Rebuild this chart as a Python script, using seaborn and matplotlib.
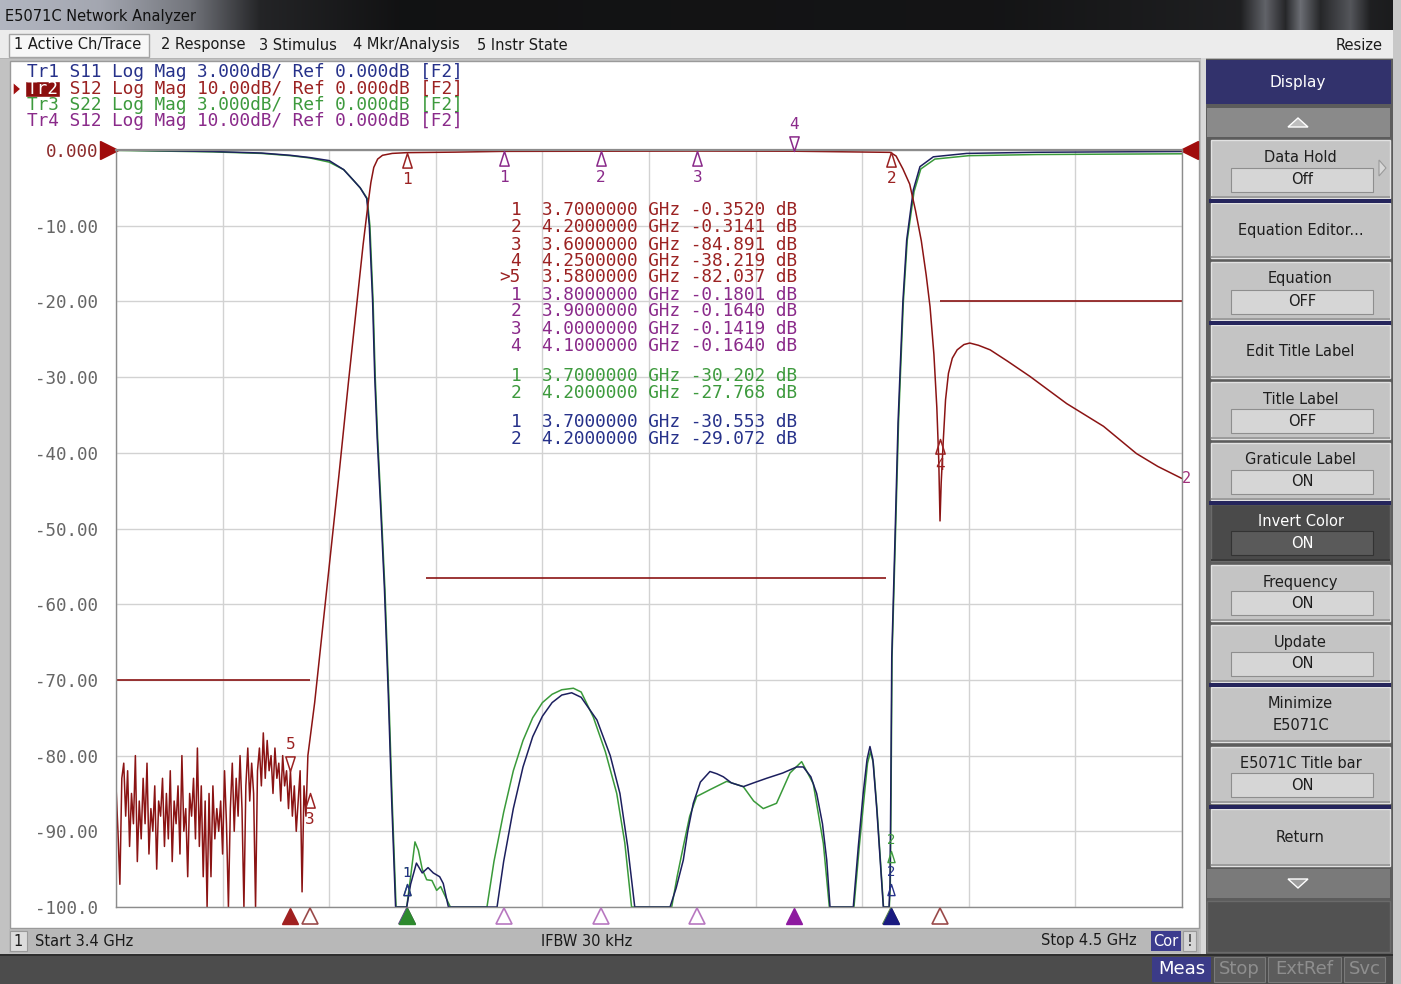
import numpy as np
import pandas as pd
import seaborn as sns
import matplotlib.pyplot as plt
from matplotlib.patches import Rectangle, Polygon
from matplotlib.path import Path
import matplotlib.transforms as mtransforms

sns.set_style('white')
plt.rcParams['font.family'] = ['DejaVu Sans']
MONO = 'DejaVu Sans Mono'

# ---------------- traces (GHz, displayed dB) ----------------
# Tr2 S12, noisy stop band on the left
noise_mhz = [3400, 3402, 3404, 3406, 3408, 3410, 3412, 3414, 3416, 3418,
             3420, 3422, 3424, 3426, 3428, 3430, 3432, 3434, 3436, 3438,
             3440, 3442, 3444, 3446, 3448, 3450, 3452, 3454, 3456, 3458,
             3460, 3462, 3464, 3466, 3468, 3470, 3472, 3474, 3476, 3478,
             3480, 3482, 3484, 3486, 3488, 3490, 3492, 3494, 3496, 3498,
             3500, 3502, 3504, 3506, 3508, 3510, 3512, 3514, 3516, 3518,
             3520, 3522, 3524, 3526, 3528, 3530, 3532, 3534, 3536, 3538,
             3540, 3542, 3544, 3546, 3548, 3550, 3552, 3554, 3556, 3558,
             3560, 3562, 3564, 3566, 3568, 3570, 3572, 3574, 3576, 3578,
             3580, 3582, 3584, 3586, 3588, 3590, 3592, 3594, 3596, 3598]
noise_db = [-84, -90, -97, -83, -81, -88, -82, -92, -85, -89,
            -80, -94, -86, -91, -83, -89, -81, -93, -87, -90,
            -84, -95, -86, -88, -83, -92, -85, -91, -82, -94,
            -86, -89, -84, -93, -80, -90, -87, -96, -85, -88,
            -83, -91, -79, -92, -84, -96, -86, -100, -85, -96,
            -84, -91, -87, -90, -86, -93, -82, -89, -100, -87,
            -81, -90, -83, -88, -80, -87, -100, -84, -79, -86,
            -81, -85, -100, -82, -79, -84, -77, -83, -78, -82,
            -80, -85, -79, -83, -81, -86, -80, -84, -82, -87,
            -82, -88, -84, -90, -86, -82, -98, -84, -88, -80]

# Tr2 S12, skirt, passband and upper stop band
s12_ghz = [3.601, 3.605, 3.610, 3.620, 3.630, 3.640, 3.650, 3.655, 3.660, 3.663,
           3.666, 3.670, 3.675, 3.685, 3.700, 3.750, 3.800, 3.900, 4.000, 4.100, 4.199,
           4.205, 4.212, 4.219, 4.225, 4.231, 4.236, 4.240, 4.244, 4.247, 4.249,
           4.2503, 4.2515, 4.2537, 4.256, 4.259, 4.263, 4.268, 4.275, 4.281, 4.290,
           4.302, 4.320, 4.343, 4.362, 4.381, 4.400, 4.419, 4.436, 4.453, 4.475, 4.500]
s12_db = [-77, -73, -67, -55, -43, -30.5, -18.5, -12.5, -7.2, -4.3,
          -2.3, -1.2, -0.7, -0.45, -0.35, -0.28, -0.18, -0.16, -0.14, -0.16, -0.31,
          -0.8, -2.5, -4.5, -8, -12, -16.5, -20.7, -27, -34, -41,
          -49, -44, -38.3, -33, -29.5, -27.5, -26.4, -25.7, -25.5, -25.8,
          -26.4, -27.9, -29.9, -31.7, -33.5, -35, -36.5, -38.3, -40.1, -41.8, -43.4]

# Tr1 S11 (3 dB/div, shown on the 10 dB/div graticule)
s11_ghz = [3.400, 3.450, 3.500, 3.550, 3.580, 3.600, 3.620, 3.635, 3.645, 3.652,
           3.6587, 3.6614, 3.6648, 3.667, 3.6695, 3.673, 3.677, 3.681, 3.6845, 3.6885,
           3.700, 3.704, 3.710, 3.716, 3.722, 3.7274, 3.734, 3.7377, 3.743,
           3.7932, 3.800, 3.810, 3.820, 3.830, 3.840, 3.850, 3.860, 3.8702, 3.880,
           3.8963, 3.910, 3.920, 3.928, 3.9353,
           3.9717, 3.978, 3.9854, 3.990, 3.9957, 4.003, 4.0129, 4.020, 4.0267, 4.035,
           4.0473, 4.058, 4.0713, 4.088, 4.1024, 4.1092, 4.117, 4.123, 4.129, 4.1334, 4.1368,
           4.1608, 4.166, 4.171, 4.175, 4.178, 4.181, 4.185, 4.1918,
           4.1977, 4.1987, 4.1995, 4.2005, 4.2038, 4.207, 4.209, 4.212, 4.2159, 4.2227,
           4.2296, 4.2434, 4.2778, 4.350, 4.420, 4.500]
s11_db = [-0.0, -0.1, -0.2, -0.4, -0.7, -1.0, -1.4, -2.6, -4.0, -5.0,
          -6.4, -10, -20, -30, -38, -47, -58, -72, -86, -100,
          -100, -97, -94.2, -95.5, -94.8, -95.5, -96, -96.9, -100,
          -100, -94, -87, -81.5, -77.5, -74.8, -73, -72, -71.7, -72.3,
          -75.3, -80, -85, -92, -100,
          -100, -97.5, -93.8, -90, -86.3, -83.5, -82.1, -82.4, -82.8, -83.6,
          -84.1, -83.6, -83, -82.3, -81.5, -81.5, -82.8, -85, -89, -93.8, -100,
          -100, -92, -85, -80.5, -78.8, -80.5, -87, -100,
          -100, -97, -85, -67, -51.5, -36, -29.5, -20, -11.9, -5.3,
          -2.2, -0.9, -0.45, -0.3, -0.25, -0.2]

# Tr3 S22 (3 dB/div)
s22_ghz = [3.400, 3.450, 3.500, 3.550, 3.580, 3.600, 3.620, 3.635, 3.645, 3.652,
           3.6592, 3.6620, 3.6653, 3.6675, 3.6700, 3.6735, 3.6775, 3.6815, 3.6850, 3.6890,
           3.700, 3.704, 3.7085, 3.712, 3.716, 3.7206, 3.726, 3.7309, 3.735, 3.7413, 3.745,
           3.7828, 3.790, 3.800, 3.810, 3.820, 3.830, 3.840, 3.850, 3.860, 3.872, 3.880,
           3.8925, 3.905, 3.9167, 3.925, 3.932,
           3.9734, 3.979, 3.9854, 3.992, 3.9992, 4.0129, 4.0302, 4.0473, 4.058, 4.0679,
           4.0816, 4.0955, 4.1075, 4.1195, 4.1299, 4.1361,
           4.1615, 4.167, 4.172, 4.1755, 4.1785, 4.1815, 4.1855, 4.1920,
           4.1980, 4.1990, 4.1998, 4.2008, 4.2042, 4.2075, 4.2095, 4.2125, 4.2165, 4.2235,
           4.2305, 4.2450, 4.2800, 4.350, 4.420, 4.500]
s22_db = [-0.05, -0.15, -0.25, -0.45, -0.75, -1.05, -1.6, -2.6, -4.0, -5.0,
          -6.4, -10, -20, -30, -38, -47, -58, -72, -86, -100,
          -100, -96, -91.4, -92.5, -95, -96.4, -96.5, -97.8, -97.3, -99, -100,
          -100, -94, -87.5, -82, -78, -75, -73, -71.9, -71.3, -71.1, -71.6,
          -74.9, -79.5, -85, -91.5, -100,
          -100, -96, -92, -88, -85.4, -84.5, -83.4, -84.1, -86, -87,
          -86.3, -82.3, -80.8, -83.7, -91.6, -100,
          -100, -92, -85.5, -81, -79.5, -81, -87.5, -100,
          -100, -97, -85, -67, -51.5, -36, -29.5, -20, -11.9, -5.5,
          -2.5, -1.2, -0.75, -0.6, -0.55, -0.5]

# limit lines of Tr2
limit_start = [3.400, 3.720, 4.250]
limit_stop = [3.600, 4.195, 4.500]
limit_db = [-70, -56.5, -20]

# markers (value as read by the instrument)
tr2_mk_ghz = [3.70, 4.20, 3.60, 4.25, 3.58]
tr2_mk_db = [-0.3520, -0.3141, -84.891, -38.219, -82.037]
tr4_mk_ghz = [3.80, 3.90, 4.00, 4.10]
tr4_mk_db = [-0.1801, -0.1640, -0.1419, -0.1640]
tr3_mk_ghz = [3.70, 4.20]
tr3_mk_db = [-30.202, -27.768]
tr1_mk_ghz = [3.70, 4.20]
tr1_mk_db = [-30.553, -29.072]
active_mk = {'tr1': 1, 'tr2': 4, 'tr3': 0, 'tr4': 3}

y_ticks = [0, -10, -20, -30, -40, -50, -60, -70, -80, -90, -100]
y_tick_labels = ['0.000', '-10.00', '-20.00', '-30.00', '-40.00', '-50.00',
                 '-60.00', '-70.00', '-80.00', '-90.00', '-100.0']

header_lines = ['Tr1 S11 Log Mag 3.000dB/ Ref 0.000dB [F2]',
                'Tr2 S12 Log Mag 10.00dB/ Ref 0.000dB [F2]',
                'Tr3 S22 Log Mag 3.000dB/ Ref 0.000dB [F2]',
                'Tr4 S12 Log Mag 10.00dB/ Ref 0.000dB [F2]']

menu_items = ['1 Active Ch/Trace', '2 Response', '3 Stimulus', '4 Mkr/Analysis', '5 Instr State']
softkeys = [('Data Hold', 'Off'), ('Equation Editor...', None), ('Equation', 'OFF'),
            ('Edit Title Label', None), ('Title Label', 'OFF'), ('Graticule Label', 'ON'),
            ('Invert Color', 'ON'), ('Frequency', 'ON'), ('Update', 'ON'),
            ('Minimize\nE5071C', None), ('E5071C Title bar', 'ON'), ('Return', None)]

# colours
C_S11 = '#1c1f5e'
C_S12 = '#8b1414'
C_S22 = '#3a9a3a'
T_S11 = '#26318a'
T_S12 = '#9b2222'
T_S22 = '#3d9a3d'
T_TR4 = '#8a2a8a'

# ---------------- figure and window chrome ----------------
fig = plt.figure(figsize=(14.01, 9.84), dpi=100)
fig.patch.set_facecolor('#c4c4c4')
bg = fig.add_axes([0, 0, 1, 1])
bg.axis('off')


def box(x0, y0, x1, y1, fc, ec='none', lw=0, z=1):
    bg.add_patch(Rectangle((x0, y0), x1 - x0, y1 - y0, facecolor=fc,
                           edgecolor=ec, linewidth=lw, zorder=z))


def txt(x, y, s, size=10.5, color='#1a1a1a', ha='left', family='DejaVu Sans', z=3,
        on=None, **kw):
    (on or bg).text(x, y, s, fontsize=size, color=color, ha=ha, va='center',
                    family=family, zorder=z, **kw)


# title bar
gx = [0, 100, 190, 260, 400, 1000, 1240, 1265, 1285, 1300, 1320, 1350, 1370, 1401]
gv = [0.70, 0.64, 0.45, 0.14, 0.07, 0.08, 0.12, 0.38, 0.15, 0.42, 0.15, 0.33, 0.12, 0.10]
row = np.interp(np.arange(1401), gx, gv)
grad = np.dstack([row, row * 1.02, np.minimum(row * 1.08, 1)])
bg.imshow(grad, extent=(0, 1401, 30, 0), aspect='auto', zorder=1)
txt(5, 16, 'E5071C Network Analyzer', size=10.5, color='#111111')

# menu bar
box(0, 30, 1401, 59, '#ececec')
box(0, 58, 1401, 59, '#b4b4b4', z=2)
box(9, 34, 149, 57, '#f7f7f7', ec='#a4a4a4', lw=1, z=2)
for xm, item in zip([14, 161, 259, 353, 477], menu_items):
    txt(xm, 45, item, size=10.5)
txt(1383, 45, 'Resize', size=10.5, ha='right')

# main window
box(0, 59, 1201, 954, '#c2c2c2')
box(10, 61, 1199, 928, 'white', ec='#9a9a9a', lw=1)
box(9, 929, 1199, 953, '#b8b8b8')
box(10, 931, 27, 951, '#dcdcdc', ec='#9a9a9a', lw=0.8, z=2)
txt(18.5, 941, '1', size=10.5, ha='center')
txt(35, 941, 'Start 3.4 GHz', size=10.5)
txt(541, 941, 'IFBW 30 kHz', size=10.5)
txt(1041, 941, 'Stop 4.5 GHz', size=10.5)
box(1151, 931, 1181, 951, '#3c3c8e', z=2)
txt(1166, 941, 'Cor', size=10.5, color='white', ha='center')
box(1183, 931, 1196, 951, '#d6d6d6', ec='#9a9a9a', lw=0.8, z=2)
txt(1189.5, 941, '!', size=10.5, ha='center')

# bottom bar
box(0, 954, 1401, 984, '#4c4c4c')
box(0, 954, 1401, 956, '#2e2e2e', z=2)
box(1152, 957, 1211, 982, '#3b3b88', z=2)
txt(1181.5, 969.5, 'Meas', size=13, color='white', ha='center')
for x0, x1, s in [(1214, 1265, 'Stop'), (1268, 1341, 'ExtRef'), (1344, 1385, 'Svc')]:
    box(x0, 957, x1, 982, '#5c5c5c', ec='#7a7a7a', lw=0.8, z=2)
    txt((x0 + x1) / 2, 969.5, s, size=13, color='#8e8e8e', ha='center')

# softkey panel
box(1201, 58, 1393, 954, '#5c5c5c')
box(1201, 58, 1206, 954, '#d8d8d8', z=2)
box(1206, 60, 1391, 104, '#32326c', z=2)
txt(1298, 83, 'Display', size=11, color='white', ha='center')
box(1207, 108, 1390, 137, '#8a8a8a', z=2)
bg.add_patch(Polygon([(1288, 127), (1308, 127), (1298, 118)], facecolor='#bdbdbd', zorder=3))
key_y = [(140, 198), (203, 258), (262, 320), (325, 378), (382, 439), (443, 500),
         (504, 561), (565, 621), (625, 682), (687, 742), (747, 803), (809, 866)]
for (title, value), (y0, y1) in zip(softkeys, key_y):
    dark = title == 'Invert Color'
    box(1211, y0, 1390, y1, '#4a4a4a' if dark else '#c4c4c4',
        ec='#6a6a6a' if dark else '#e2e2e2', lw=1, z=2)
    box(1211, y1 - 2, 1390, y1, '#3a3a3a' if dark else '#9c9c9c', z=2)
    tc = 'white' if dark else '#1e1e1e'
    if value is None:
        txt(1300.5, (y0 + y1) / 2, title, size=10.5, color=tc, ha='center', linespacing=1.6)
    else:
        txt(1300.5, y0 + 17, title, size=10.5, color=tc, ha='center')
        box(1231, y1 - 30, 1373, y1 - 6, '#5a5a5a' if dark else '#d6d6d6',
            ec='#333333' if dark else '#8e8e8e', lw=0.8, z=3)
        txt(1302, y1 - 18, value, size=10.5, color=tc, ha='center', z=4)
bg.add_patch(Polygon([(1379, 160), (1379, 176), (1386, 168)], facecolor='#d8d8d8',
                     edgecolor='#9a9a9a', lw=0.8, zorder=3))
for ys in [199, 321, 501, 683, 805]:
    box(1209, ys, 1391, ys + 4, '#25255c', z=3)
box(1207, 869, 1390, 898, '#7a7a7a', z=2)
bg.add_patch(Polygon([(1288, 879), (1308, 879), (1298, 888)], facecolor='#9e9e9e', zorder=3))
box(1207, 901, 1390, 952, '#525252', ec='#6a6a6a', lw=1, z=2)
box(1393, 0, 1401, 984, '#c8c8c8', z=2)
bg.set_xlim(0, 1401)
bg.set_ylim(984, 0)

# ---------------- measurement graticule ----------------
ax = fig.add_axes([116 / 1401, 1 - 907 / 984, 1066 / 1401, 757 / 984])
ax.set_zorder(2)
ax.patch.set_alpha(0)
ax.set_xlim(3.4, 4.5)
ax.set_ylim(-100, 0)
ax.set_xticks(np.linspace(3.4, 4.5, 11))
ax.set_xticklabels([])
ax.set_yticks(y_ticks)
ax.set_yticklabels(y_tick_labels, family=MONO, fontsize=12.6, color='#666666')
ax.get_yticklabels()[0].set_color('#8c2a2a')
ax.tick_params(length=0, pad=13)
ax.grid(True, color='#d2d2d2', lw=1)
ax.set_axisbelow(True)
for sp in ax.spines.values():
    sp.set_color('#8c8c8c')
    sp.set_linewidth(1)
ax.spines['top'].set_linewidth(1.6)

df22 = pd.DataFrame({'freq': s22_ghz, 'db': s22_db})
df11 = pd.DataFrame({'freq': s11_ghz, 'db': s11_db})
df12 = pd.DataFrame({'freq': [m / 1000 for m in noise_mhz] + s12_ghz,
                     'db': noise_db + s12_db})
sns.lineplot(data=df22, x='freq', y='db', ax=ax, color=C_S22, lw=1.1, estimator=None, sort=False)
sns.lineplot(data=df11, x='freq', y='db', ax=ax, color=C_S11, lw=1.1, estimator=None, sort=False)
sns.lineplot(data=df12, x='freq', y='db', ax=ax, color=C_S12, lw=1.1, estimator=None, sort=False)
ax.hlines(limit_db, limit_start, limit_stop, color=C_S12, lw=1.2)
ax.set_xlabel('')
ax.set_ylabel('')

# reference level arrows
off_l = mtransforms.ScaledTranslation(-7 / 100, 0, fig.dpi_scale_trans)
off_r = mtransforms.ScaledTranslation(7 / 100, 0, fig.dpi_scale_trans)
ax.plot([3.4], [0], marker='>', ms=13, color='#a00c0c', transform=ax.transData + off_l, clip_on=False)
ax.plot([4.5], [0], marker='<', ms=13, color='#a00c0c', transform=ax.transData + off_r, clip_on=False)

# marker glyphs on the traces
tri_below = Path([(0, 0), (-0.32, -1), (0.32, -1), (0, 0)],
                 [Path.MOVETO, Path.LINETO, Path.LINETO, Path.CLOSEPOLY])
tri_above = Path([(0, 0), (-0.32, 1), (0.32, 1), (0, 0)],
                 [Path.MOVETO, Path.LINETO, Path.LINETO, Path.CLOSEPOLY])


def trace_marker(f, v, num, color, above=False):
    ax.plot([f], [v], marker=tri_above if above else tri_below, ms=21, mfc='none',
            mec=color, mew=1.1, ls='none', clip_on=False, zorder=6)
    ax.annotate(str(num), (f, v), xytext=(0, 19 if above else -19), textcoords='offset points',
                ha='center', va='center', fontsize=11.5, family=MONO, color=color,
                annotation_clip=False, zorder=6)


for k, (f, v) in enumerate(zip(tr2_mk_ghz, tr2_mk_db)):
    trace_marker(f, v, k + 1, T_S12, above=(k == active_mk['tr2']))
for k, (f, v) in enumerate(zip(tr4_mk_ghz, tr4_mk_db)):
    trace_marker(f, v, k + 1, T_TR4, above=(k == active_mk['tr4']))
for mk_f, mk_v, col in [(tr3_mk_ghz, tr3_mk_db, T_S22), (tr1_mk_ghz, tr1_mk_db, T_S11)]:
    for k, (f, v) in enumerate(zip(mk_f, mk_v)):
        vd = max(v * 10 / 3, -97)
        ax.plot([f], [vd], marker=tri_below, ms=16, mfc='none', mec=col, mew=1,
                ls='none', clip_on=False, zorder=6)
        ax.annotate(str(k + 1), (f, vd), xytext=(0, 8), textcoords='offset points',
                    ha='center', va='center', fontsize=10, family=MONO, color=col, zorder=6)
ax.annotate('2', (4.5, s12_db[-1]), xytext=(3, 0), textcoords='offset points',
            ha='center', va='center', fontsize=11, family=MONO, color='#a0307a',
            annotation_clip=False)

# marker flags under the graticule
flag_tr = mtransforms.blended_transform_factory(ax.transData, ax.transAxes)
groups = [(tr2_mk_ghz, active_mk['tr2'], '#a02020', '#9a4a4a'),
          (tr4_mk_ghz, active_mk['tr4'], '#8e1aa0', '#b878c0'),
          (tr3_mk_ghz, active_mk['tr3'], '#2e8a2e', '#5aa05a'),
          (tr1_mk_ghz, active_mk['tr1'], '#1a1a80', '#5a5a9a')]
for mk_f, act, fill, edge in groups:
    for k, f in enumerate(mk_f):
        if k != act:
            ax.plot([f], [-0.0115], marker='^', ms=12, mfc='white', mec=edge, mew=1.2,
                    transform=flag_tr, clip_on=False, zorder=5)
for mk_f, act, fill, edge in [groups[0], groups[1], groups[3], groups[2]]:
    ax.plot([mk_f[act]], [-0.0115], marker='^', ms=12, mfc=fill, mec=fill, mew=1,
            transform=flag_tr, clip_on=False, zorder=7)

# ---------------- texts drawn over the graticule ----------------
ov = fig.add_axes([0, 0, 1, 1])
ov.set_zorder(3)
ov.patch.set_alpha(0)
ov.axis('off')
ov.set_xlim(0, 1401)
ov.set_ylim(984, 0)

# trace header
char_w = 12.8 * 100 / 72 * 0.602
for i, (line, col) in enumerate(zip(header_lines, [T_S11, T_S12, T_S22, T_TR4])):
    yl = [72, 89, 105, 121][i]
    if i == 1:
        ov.add_patch(Rectangle((25, 81), 35, 16, facecolor='#8b0e0e', zorder=2))
        txt(27, yl, line[:3], size=12.8, color='white', family=MONO, on=ov)
        txt(27 + 3 * char_w, yl, line[3:], size=12.8, color=col, family=MONO, on=ov)
    else:
        txt(27, yl, line, size=12.8, color=col, family=MONO, on=ov)
ov.add_patch(Polygon([(13, 82), (13, 96), (21, 89)], facecolor='#a01010', zorder=3))

# marker table
rows = []
for k, (f, v) in enumerate(zip(tr2_mk_ghz, tr2_mk_db)):
    rows.append(('>' + str(k + 1) if k == active_mk['tr2'] else str(k + 1), f, v, T_S12))
for k, (f, v) in enumerate(zip(tr4_mk_ghz, tr4_mk_db)):
    rows.append((str(k + 1), f, v, T_TR4))
for k, (f, v) in enumerate(zip(tr3_mk_ghz, tr3_mk_db)):
    rows.append((str(k + 1), f, v, T_S22))
for k, (f, v) in enumerate(zip(tr1_mk_ghz, tr1_mk_db)):
    rows.append((str(k + 1), f, v, T_S11))
row_y = [210, 227.5, 244.5, 261, 277.5, 295, 311.5, 328.5, 346, 376, 393, 422, 439]
for (lab, f, v, col), yr in zip(rows, row_y):
    vs = f'{v:.4f}' if abs(v) < 10 else f'{v:.3f}'
    txt(521, yr, lab, size=12.8, color=col, family=MONO, ha='right', on=ov)
    txt(542, yr, f'{f:.7f} GHz {vs} dB', size=12.8, color=col, family=MONO, on=ov)

fig.savefig('out.png', dpi=100, facecolor=fig.get_facecolor())
